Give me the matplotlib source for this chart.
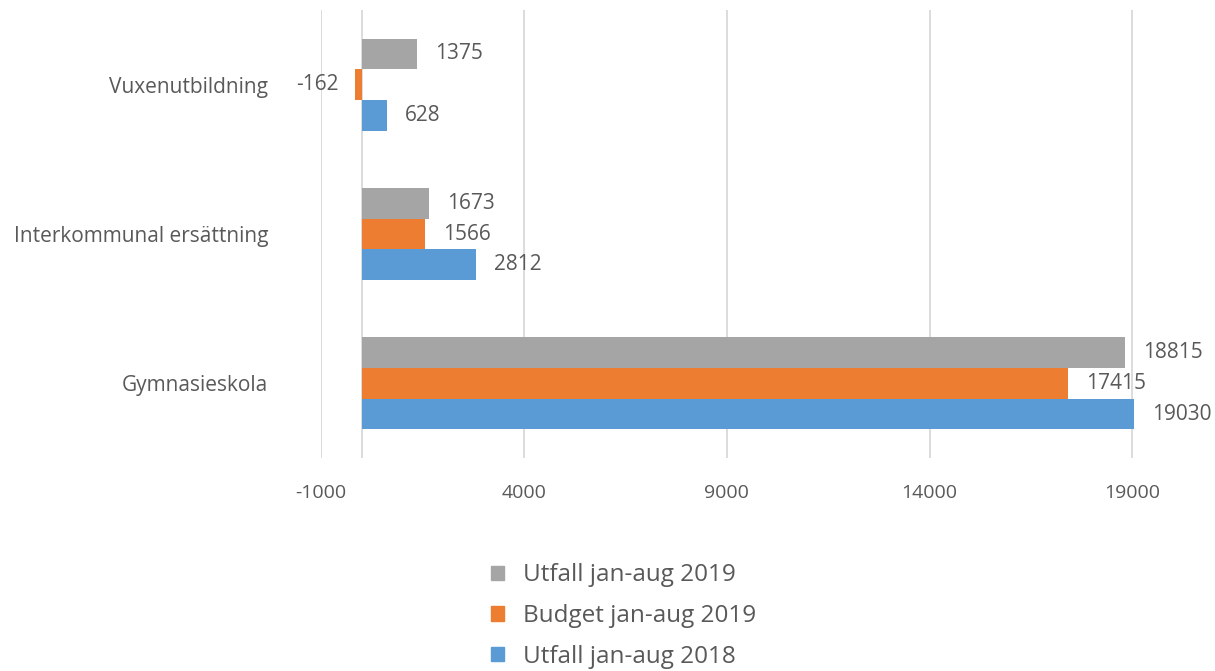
import numpy as np
import matplotlib.pyplot as plt
from matplotlib.patches import Patch

categories = ['Vuxenutbildning', 'Interkommunal ersättning', 'Gymnasieskola']
utfall_2019 = [1375, 1673, 18815]
budget_2019 = [-162, 1566, 17415]
utfall_2018 = [628, 2812, 19030]
series_names = ['Utfall jan-aug 2019', 'Budget jan-aug 2019', 'Utfall jan-aug 2018']
xticks = [-1000, 4000, 9000, 14000, 19000]

colors = ['#A5A5A5', '#ED7D31', '#5B9BD5']
txt = '#595959'
plt.rcParams['font.family'] = ['Open Sans', 'DejaVu Sans']

fig = plt.figure(figsize=(12.15, 6.71), dpi=100)
ax = fig.add_axes([321/1215, 1 - 458/671, (1134-321)/1215, 448/671])

y = np.arange(len(categories))
h = 0.2055
for k, (vals, c) in enumerate(zip([utfall_2019, budget_2019, utfall_2018], colors)):
    pos = y + (k - 1) * h
    ax.barh(pos, vals, height=h, color=c, zorder=3)
    for p, v in zip(pos, vals):
        if v >= 0:
            ax.annotate(str(v), (v, p), xytext=(13, 0), textcoords='offset points',
                        ha='left', va='center', fontsize=15, color=txt)
        else:
            ax.annotate(str(v), (v, p), xytext=(-12, 0), textcoords='offset points',
                        ha='right', va='center', fontsize=15, color=txt)

ax.set_xlim(-1000, 19040)
ax.set_ylim(2.5, -0.5)
ax.set_xticks(xticks)
ax.set_xticklabels([str(t) for t in xticks])
ax.set_yticks(y)
ax.set_yticklabels(categories)
ax.tick_params(axis='x', length=0, pad=19, labelsize=14, labelcolor=txt)
ax.tick_params(axis='y', length=0, pad=38, labelsize=15, labelcolor=txt)
for s in ax.spines.values():
    s.set_visible(False)
ax.grid(axis='x', color='#D9D9D9', linewidth=1.3, zorder=0)
ax.axvline(0, color='#D9D9D9', linewidth=1.3, zorder=2)

handles = [Patch(color=c, label=n) for c, n in zip(colors, series_names)]
fig.legend(handles=handles, loc='center', bbox_to_anchor=(0.513, 1 - 616/671),
           frameon=False, fontsize=17.5, labelcolor=txt, handlelength=0.55,
           handleheight=0.55, handletextpad=0.75, labelspacing=0.68)

fig.savefig('out.png', dpi=100)
